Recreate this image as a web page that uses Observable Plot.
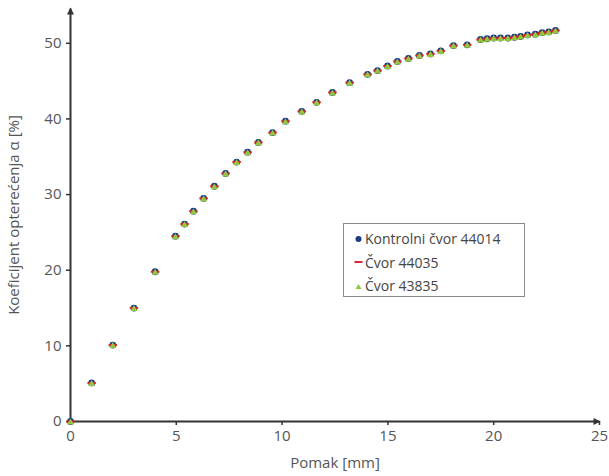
<!DOCTYPE html>
<html>
<head>
<meta charset="utf-8">
<script src="https://cdn.jsdelivr.net/npm/d3@7"></script>
<script src="https://cdn.jsdelivr.net/npm/@observablehq/plot@0.6"></script>
<style>
  body { margin: 0; background: #fff; }
  #wrap { position: relative; width: 609px; height: 476px; font-family: "Open Sans", sans-serif; }
  #legend {
    position: absolute; left: 343px; top: 223px; width: 182px; height: 74px;
    border: 1px solid #8a8a8a; background: #fff; box-sizing: border-box;
    padding: 3px 0 0 10px; font-size: 14px; color: #444;
  }
  #legend .row { display: flex; align-items: center; height: 23.5px; white-space: nowrap; }
  #legend svg { margin-right: 2px; }
</style>
</head>
<body>
<div id="wrap"></div>
<script>
// Pomak [mm]
const displacement = [0, 1, 2, 3, 4, 4.96, 5.39, 5.81, 6.29, 6.8, 7.33, 7.85, 8.37, 8.88, 9.55, 10.16,
  10.93, 11.63, 12.38, 13.19, 14.04, 14.51, 14.98, 15.45, 15.97, 16.49, 17.01, 17.5, 18.1, 18.75,
  19.38, 19.69, 20.0, 20.32, 20.67, 20.98, 21.27, 21.6, 21.97, 22.29, 22.6, 22.92];
// Koeficijent opterećenja [%] po čvoru
const node44014 = [0, 5.1, 10.1, 15.0, 19.8, 24.5, 26.1, 27.8, 29.5, 31.1, 32.8, 34.3, 35.6, 36.9, 38.2, 39.7,
  41.0, 42.2, 43.5, 44.8, 45.9, 46.4, 47.0, 47.6, 48.0, 48.4, 48.6, 49.0, 49.7, 49.8,
  50.5, 50.6, 50.7, 50.7, 50.7, 50.8, 50.9, 51.1, 51.2, 51.4, 51.5, 51.7];
const node44035 = [0, 5.1, 10.1, 15.0, 19.8, 24.5, 26.1, 27.8, 29.5, 31.1, 32.8, 34.3, 35.6, 36.9, 38.2, 39.7,
  41.0, 42.2, 43.5, 44.8, 45.9, 46.4, 47.0, 47.6, 48.0, 48.4, 48.6, 49.0, 49.7, 49.8,
  50.5, 50.6, 50.7, 50.7, 50.7, 50.8, 50.9, 51.1, 51.2, 51.4, 51.5, 51.7];
const node43835 = [0, 5.1, 10.1, 15.0, 19.8, 24.5, 26.1, 27.8, 29.5, 31.1, 32.8, 34.3, 35.6, 36.9, 38.2, 39.7,
  41.0, 42.2, 43.5, 44.8, 45.9, 46.4, 47.0, 47.6, 48.0, 48.4, 48.6, 49.0, 49.7, 49.8,
  50.5, 50.6, 50.7, 50.7, 50.7, 50.8, 50.9, 51.1, 51.2, 51.4, 51.5, 51.7];

const seriesNames = ["Kontrolni čvor 44014", "Čvor 44035", "Čvor 43835"];
const xTicks = [0, 5, 10, 15, 20, 25];
const yTicks = [0, 10, 20, 30, 40, 50];
const xMax = 25, yMax = 54.6;

const colors = { blue: "#1d3a84", red: "#d9262a", green: "#93c83e" };
const axisColor = "#333";

const toRows = ys => displacement.map((x, i) => ({ x, y: ys[i] }));

// short horizontal dash marker
const dash = {
  draw(ctx, size) {
    const r = Math.sqrt(size / Math.PI);
    ctx.moveTo(-r * 1.25, -1);
    ctx.lineTo(r * 1.25, -1);
    ctx.lineTo(r * 1.25, 1);
    ctx.lineTo(-r * 1.25, 1);
    ctx.closePath();
  }
};

// small filled arrowhead, tip pointing up
const arrowHead = {
  draw(ctx) {
    ctx.moveTo(0, -4);
    ctx.lineTo(3.5, 3);
    ctx.lineTo(-3.5, 3);
    ctx.closePath();
  }
};

const axisLines = [
  { x1: 0, y1: 0, x2: xMax, y2: 0 },
  { x1: 0, y1: 0, x2: 0, y2: yMax }
];
const axisEnds = [
  { x: xMax, y: 0, angle: 90, dx: -3, dy: 0 },
  { x: 0, y: yMax, angle: 0, dx: 0, dy: 3 }
];

const chart = Plot.plot({
  width: 609,
  height: 476,
  marginLeft: 70,
  marginRight: 10,
  marginTop: 8,
  marginBottom: 55,
  style: { fontFamily: "Open Sans, sans-serif", fontSize: "13.5px", color: "#555", background: "#fff" },
  x: { domain: [0, xMax] },
  y: { domain: [0, yMax] },
  marks: [
    Plot.axisX({ ticks: xTicks, tickSize: 4, tickPadding: 5, stroke: axisColor, strokeWidth: 1.5,
      label: "Pomak [mm]", labelAnchor: "center", labelArrow: "none", labelOffset: 46,
      fontSize: 13.5, fill: "#555" }),
    Plot.axisY({ ticks: yTicks, tickSize: 4, tickPadding: 5, stroke: axisColor, strokeWidth: 1.5,
      label: "Koeficijent opterećenja α [%]", labelAnchor: "center", labelArrow: "none", labelOffset: 62,
      fontSize: 13.5, fill: "#555" }),
    Plot.link(axisLines, { x1: "x1", y1: "y1", x2: "x2", y2: "y2", stroke: axisColor, strokeWidth: 2 }),
    Plot.dot(axisEnds.slice(0, 1), { x: "x", y: "y", symbol: arrowHead, rotate: "angle", r: 3, fill: axisColor, dx: -3 }),
    Plot.dot(axisEnds.slice(1), { x: "x", y: "y", symbol: arrowHead, rotate: "angle", r: 3, fill: axisColor, dy: 3 }),
    Plot.dot(toRows(node44014), { x: "x", y: "y", r: 3.4, symbol: "circle", fill: colors.blue }),
    Plot.dot(toRows(node44035), { x: "x", y: "y", r: 3.4, symbol: dash, fill: colors.red }),
    Plot.dot(toRows(node43835), { x: "x", y: "y", r: 2.6, symbol: "triangle", fill: colors.green, dy: 1 })
  ]
});

// axis titles a little larger than tick labels
chart.querySelectorAll("[aria-label$='label'] text, [aria-label='x-axis label'] text, [aria-label='y-axis label'] text")
  .forEach(t => t.setAttribute("font-size", "15"));

const wrap = document.getElementById("wrap");
wrap.appendChild(chart);

// legend box placed over the plot area
const legend = document.createElement("div");
legend.id = "legend";
const swatches = [
  `<svg width="9" height="10"><circle cx="4.5" cy="5" r="3" fill="${colors.blue}"/></svg>`,
  `<svg width="9" height="10"><rect x="0.5" y="4" width="8" height="2" fill="${colors.red}"/></svg>`,
  `<svg width="9" height="10"><path d="M4.5,3 L7.5,8 L1.5,8 Z" fill="${colors.green}"/></svg>`
];
legend.innerHTML = seriesNames.map((name, i) =>
  `<div class="row">${swatches[i]}<span>${name}</span></div>`).join("");
wrap.appendChild(legend);
</script>
</body>
</html>
